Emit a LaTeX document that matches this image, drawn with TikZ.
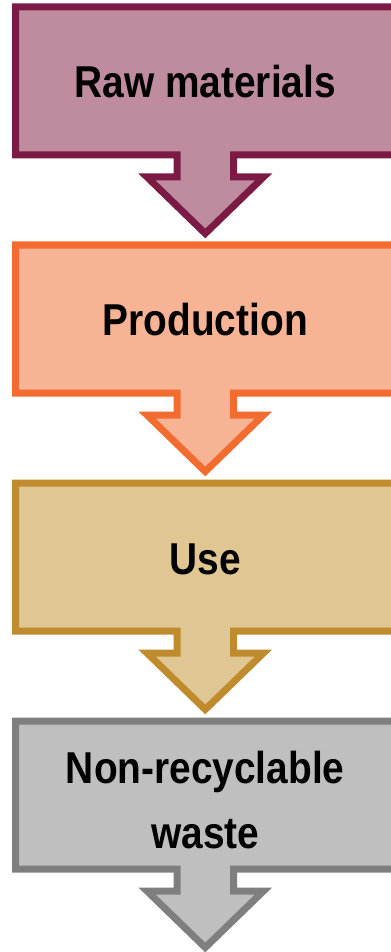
\documentclass[tikz,border=0pt]{standalone}
\usepackage{fontspec}
\setmainfont{Liberation Sans}[FakeStretch=0.87]
\definecolor{fillraw}{RGB}{191,139,158}
\definecolor{lineraw}{RGB}{123,27,69}
\definecolor{fillprod}{RGB}{247,180,148}
\definecolor{lineprod}{RGB}{242,108,48}
\definecolor{filluse}{RGB}{223,198,147}
\definecolor{lineuse}{RGB}{192,139,45}
\definecolor{fillwaste}{RGB}{191,191,191}
\definecolor{linewaste}{RGB}{127,127,127}

\begin{document}
\begin{tikzpicture}[x=0.75pt,y=-0.75pt,
    flecha/.style={line width=5.25pt,line join=miter},
    etiqueta/.style={font=\fontsize{33.5}{48.75}\selectfont\bfseries,align=center}]
    \useasboundingbox (0,0) rectangle (391,952);

    % Flechas
    \foreach \o/\c/\ty/\t in {3.5/raw/82/{Raw materials}, 241.5/prod/320/Production,
        479.5/use/559/Use, 717.5/waste/800/{Non-recyclable\\waste}} {
      \draw[flecha,draw=line\c,fill=fill\c,shift={(0,\o)}]
        (15.5,3.5) -- (394.5,3.5) -- (394.5,151.5) -- (233.5,151.5) -- (233.5,173.5)
        -- (263.5,173.5) -- (205.25,230) -- (147,173.5) -- (177,173.5)
        -- (177,151.5) -- (15.5,151.5) -- cycle;
      % Etiquetas
      \node[etiqueta] (\c) at (205.25,\ty) {\t};
    }
\end{tikzpicture}
\end{document}
